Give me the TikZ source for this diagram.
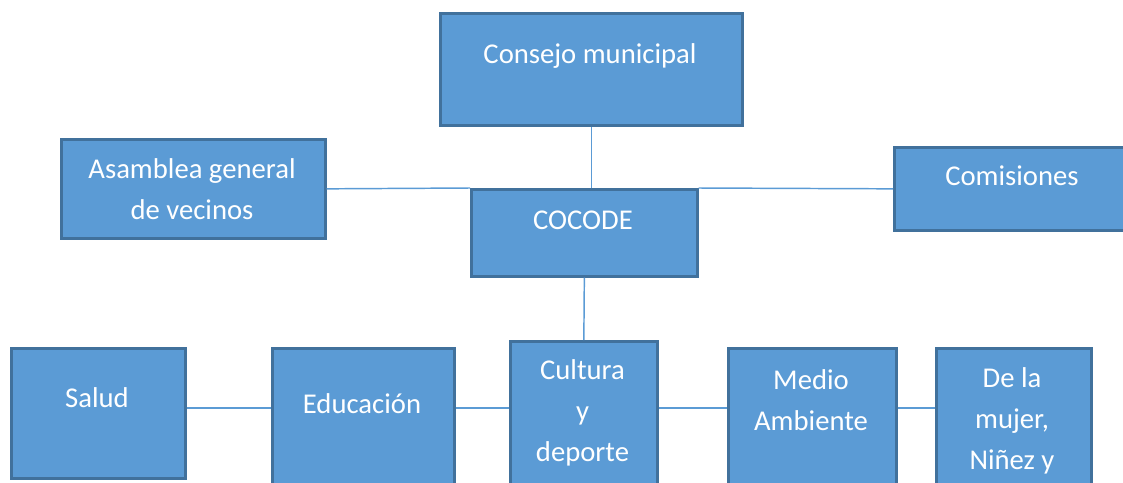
\documentclass[tikz,border=0pt]{standalone}
\usepackage{fontspec}
\setmainfont{Carlito}
\usepackage{tikz}
\definecolor{unitfill}{HTML}{5B9BD5}
\definecolor{unitedge}{HTML}{41719C}

\begin{document}
\begin{tikzpicture}[x=0.75pt,y=-0.75pt,
  unit/.style={draw=unitedge, fill=unitfill, line width=2pt, anchor=north west, inner sep=0pt},
  caption/.style={text=white, anchor=base, align=center, inner sep=0pt, font=\fontsize{21.5}{30.75}\selectfont},
  link/.style={draw=unitfill, line width=1.1pt}]
\useasboundingbox (0,0) rectangle (1123,482);

\node[unit, minimum width=226.5pt, minimum height=84pt] (consejo) at (439,12) {};
\node[unit, minimum width=198pt, minimum height=74.25pt] (asamblea) at (60,138) {};
\node[unit, minimum width=169.5pt, minimum height=65.25pt] (cocode) at (470,188) {};
\node[unit, minimum width=178.5pt, minimum height=62.25pt] (comisiones) at (893,146) {};

\node[unit, minimum width=130.5pt, minimum height=97.5pt] (salud) at (10,347) {};
\node[unit, minimum width=136.5pt, minimum height=112.5pt] (educacion) at (271,347) {};
\node[unit, minimum width=110.25pt, minimum height=120pt] (cultura) at (509,340) {};
\node[unit, minimum width=126pt, minimum height=112.5pt] (medio) at (727,347) {};
\node[unit, minimum width=116.25pt, minimum height=112.5pt] (mujer) at (935,347) {};

\node[caption] (t-consejo) at (590,63) {Consejo municipal};
\node[caption] (t-asamblea) at (192,219) {Asamblea general\\de vecinos};
\node[caption] (t-cocode) at (583,229) {COCODE};
\node[caption] (t-comisiones) at (1012,185) {Comisiones};
\node[caption] (t-salud) at (97,407) {Salud};
\node[caption] (t-educacion) at (362,413) {Educación};
\node[caption] (t-cultura) at (582.5,461) {Cultura\\y\\deporte};
\node[caption] (t-medio) at (811,430) {Medio\\Ambiente};
\node[caption] (t-mujer) at (1012,469) {De la\\mujer,\\Niñez y};

\coordinate (row) at (0,408);

\path[link] (consejo.south) -- (consejo.south |- cocode.north);
\path[link] (asamblea.east) -- (cocode.north west);
\path[link] (cocode.north east) -- (comisiones.west);
\path[link] (cocode.south) -- (cultura.north);
\path[link] (salud.east |- row) -- (educacion.west |- row);
\path[link] (educacion.east |- row) -- (cultura.west |- row);
\path[link] (cultura.east |- row) -- (medio.west |- row);
\path[link] (medio.east |- row) -- (mujer.west |- row);
\end{tikzpicture}
\end{document}
